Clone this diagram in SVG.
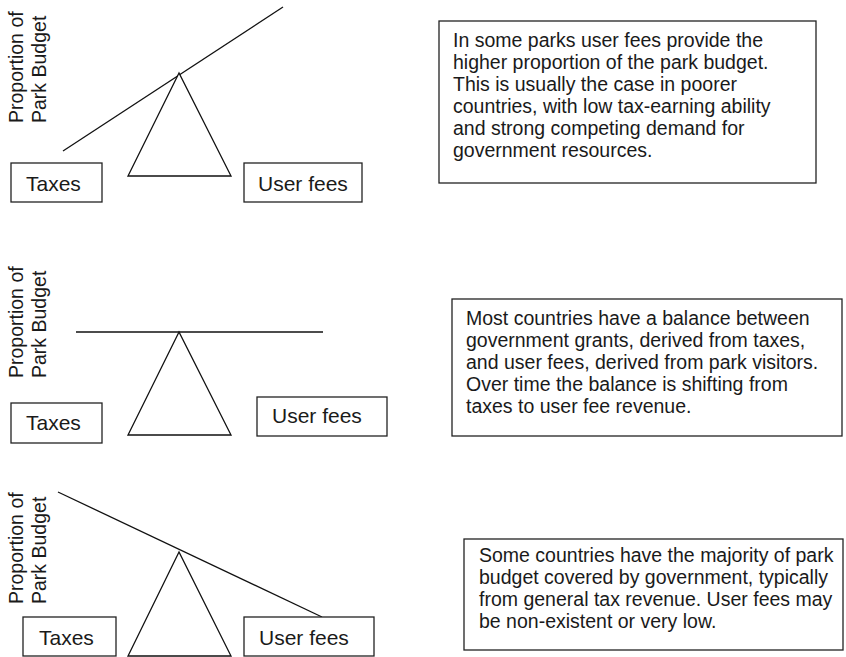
<svg xmlns="http://www.w3.org/2000/svg" width="846" height="657" viewBox="0 0 846 657">
<style>
text{font-family:"Liberation Sans",Arial,sans-serif;fill:#1a1a1a}
.t{font-size:19.5px}
.l{font-size:21px}
.y{font-size:19.5px}
.b{fill:#fff;stroke:#222;stroke-width:1.3}
.ln{stroke:#111;stroke-width:1.3;fill:none}
.tri{fill:#fff;stroke:#111;stroke-width:1.3}
</style>
<rect width="846" height="657" fill="#fff"/>
<g id="connectors">
<line class="ln" x1="63" y1="151" x2="283" y2="7"/>
<line class="ln" x1="76" y1="332" x2="323" y2="332"/>
<line class="ln" x1="58" y1="492" x2="322" y2="617"/>
</g>
<g id="panel1">
<g id="axis1"><text class="y" transform="translate(23,123) rotate(-90)">Proportion of</text><text class="y" transform="translate(46,123) rotate(-90)">Park Budget</text></g>
<polygon id="fulcrum1" class="tri" points="179,73 128,176 231,176"/>
<g id="taxes1"><rect class="b" x="11" y="163" width="91" height="39"/><text class="l" x="26" y="191">Taxes</text></g>
<g id="fees1"><rect class="b" x="244" y="163" width="118" height="39"/><text class="l" x="258" y="191">User fees</text></g>
<g id="note1"><rect class="b" x="439" y="21" width="377" height="162"/>
<text class="t"><tspan x="453" y="47">In some parks user fees provide the</tspan><tspan x="453" y="69">higher proportion of the park budget.</tspan><tspan x="453" y="91">This is usually the case in poorer</tspan><tspan x="453" y="113">countries, with low tax-earning ability</tspan><tspan x="453" y="135">and strong competing demand for</tspan><tspan x="453" y="157">government resources.</tspan></text></g>
</g>
<g id="panel2">
<g id="axis2"><text class="y" transform="translate(23,378) rotate(-90)">Proportion of</text><text class="y" transform="translate(46,378) rotate(-90)">Park Budget</text></g>
<polygon id="fulcrum2" class="tri" points="179,332 128,435 231,435"/>
<g id="taxes2"><rect class="b" x="11" y="403" width="91" height="40"/><text class="l" x="26" y="430">Taxes</text></g>
<g id="fees2"><rect class="b" x="257" y="397" width="130" height="39"/><text class="l" x="272" y="423">User fees</text></g>
<g id="note2"><rect class="b" x="452" y="299" width="390" height="137"/>
<text class="t"><tspan x="466" y="325">Most countries have a balance between</tspan><tspan x="466" y="347">government grants, derived from taxes,</tspan><tspan x="466" y="369">and user fees, derived from park visitors.</tspan><tspan x="466" y="391">Over time the balance is shifting from</tspan><tspan x="466" y="413">taxes to user fee revenue.</tspan></text></g>
</g>
<g id="panel3">
<g id="axis3"><text class="y" transform="translate(23,604) rotate(-90)">Proportion of</text><text class="y" transform="translate(46,604) rotate(-90)">Park Budget</text></g>
<polygon id="fulcrum3" class="tri" points="179,552 128,656 231,656"/>
<g id="taxes3"><rect class="b" x="23" y="617" width="93" height="39"/><text class="l" x="39" y="645">Taxes</text></g>
<g id="fees3"><rect class="b" x="244" y="617" width="130" height="39"/><text class="l" x="259" y="645">User fees</text></g>
<g id="note3"><rect class="b" x="464" y="539" width="379" height="111"/>
<text class="t"><tspan x="479" y="562">Some countries have the majority of park</tspan><tspan x="479" y="584">budget covered by government, typically</tspan><tspan x="479" y="606">from general tax revenue. User fees may</tspan><tspan x="479" y="628">be non-existent or very low.</tspan></text></g>
</g>
</svg>
